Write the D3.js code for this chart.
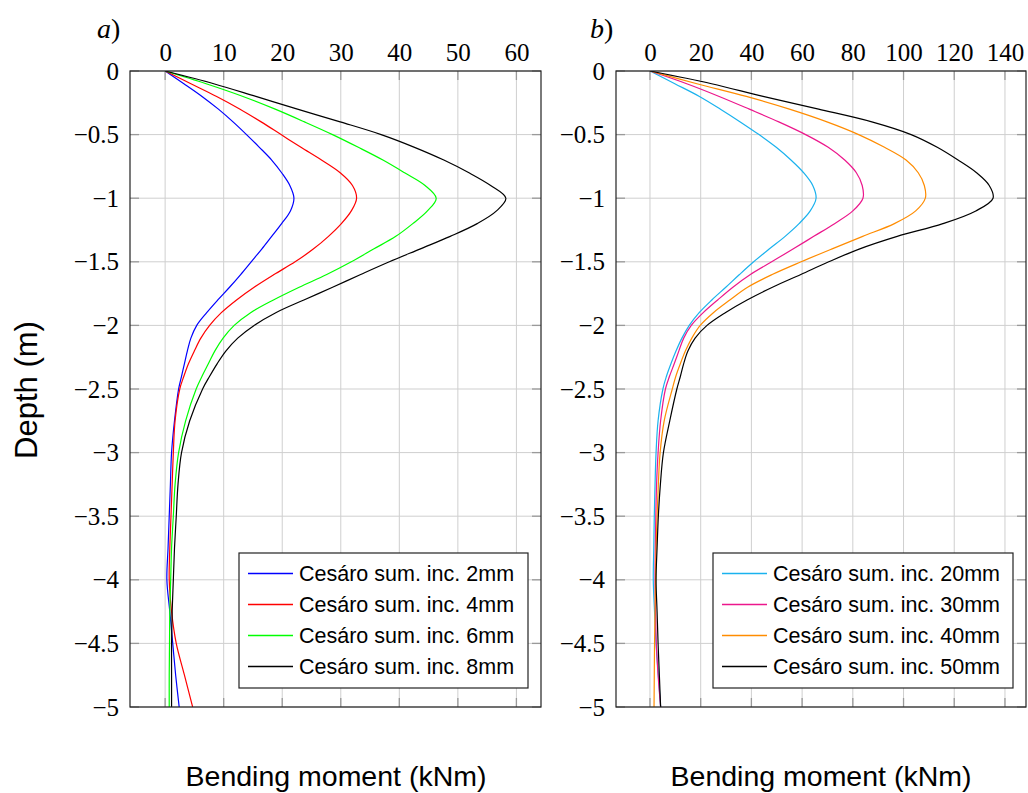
<!DOCTYPE html>
<html>
<head>
<meta charset="utf-8">
<script src="https://cdn.jsdelivr.net/npm/d3@7/dist/d3.min.js"></script>
<style>
  html, body { margin: 0; padding: 0; background: #fff; }
  svg { display: block; }
</style>
</head>
<body>
<svg id="chart" width="1028" height="793"></svg>
<script>
// ---------------- DATA ----------------
const depth = [0, -0.1, -0.2, -0.3, -0.4, -0.5, -0.6, -0.7, -0.8, -0.9, -1.0, -1.1, -1.2, -1.3, -1.4, -1.5, -1.6, -1.7, -1.8, -1.9, -2.0, -2.1, -2.2, -2.3, -2.4, -2.5, -2.75, -3.0, -3.25, -3.5, -3.75, -4.0, -4.25, -4.5, -4.75, -5.0];

// panel a) bending moment (kNm)
const inc2mm = [0, 3.2, 6.3, 9.1, 11.6, 13.9, 16.1, 18.2, 19.9, 21.3, 22.0, 21.4, 19.9, 18.2, 16.5, 14.7, 12.9, 11.0, 9.0, 7.1, 5.4, 4.4, 3.8, 3.3, 2.8, 2.3, 1.6, 1.1, 0.9, 0.7, 0.5, 0.3, 0.8, 1.3, 1.8, 2.4];
const inc4mm = [0, 4.4, 8.8, 12.8, 16.4, 19.8, 23.2, 26.7, 29.9, 32.0, 32.7, 31.8, 30.1, 27.9, 25.3, 22.2, 18.6, 15.2, 12.2, 9.6, 7.6, 6.1, 5.0, 4.0, 3.2, 2.5, 1.7, 1.4, 1.2, 1.0, 0.8, 0.7, 1.1, 1.9, 3.3, 4.7];
const inc6mm = [0, 7.0, 13.3, 18.8, 23.8, 28.6, 33.0, 37.2, 40.9, 44.4, 46.3, 44.8, 42.3, 39.4, 35.6, 31.8, 27.6, 22.9, 18.5, 14.6, 11.8, 9.9, 8.5, 7.4, 6.3, 5.3, 3.5, 2.3, 1.7, 1.4, 1.1, 0.95, 0.8, 0.75, 0.7, 0.7];
const inc8mm = [0, 8.3, 15.5, 22.6, 29.9, 36.9, 42.6, 47.6, 51.9, 55.6, 58.2, 56.6, 53.3, 48.7, 43.5, 38.3, 33.4, 28.6, 23.7, 18.9, 15.2, 12.4, 10.4, 8.9, 7.6, 6.4, 4.2, 2.8, 2.2, 1.9, 1.6, 1.4, 1.2, 1.1, 1.1, 1.1];

// panel b) bending moment (kNm)
const inc20mm = [0, 9.8, 19.5, 27.8, 35.6, 43.0, 49.8, 55.6, 60.6, 64.2, 65.5, 63.2, 58.8, 53.3, 47.0, 40.9, 35.3, 29.9, 24.4, 19.4, 15.5, 12.6, 10.3, 8.3, 6.5, 5.1, 3.2, 2.4, 2.0, 1.7, 1.5, 1.3, 1.8, 2.4, 3.3, 4.2];
const inc30mm = [0, 14.5, 27.3, 39.2, 50.8, 61.4, 70.3, 76.8, 81.4, 83.7, 84.0, 80.0, 72.8, 64.6, 56.4, 48.0, 39.6, 32.7, 26.7, 21.0, 16.3, 13.3, 11.4, 9.6, 7.7, 6.1, 4.2, 3.2, 2.6, 2.3, 2.1, 2.0, 2.2, 2.5, 3.2, 4.2];
const inc40mm = [0, 18.5, 38.0, 55.0, 69.8, 82.3, 92.5, 101.0, 105.8, 108.2, 108.6, 104.8, 96.4, 83.9, 71.6, 59.6, 48.2, 38.5, 31.5, 25.0, 19.8, 16.5, 14.0, 12.0, 10.2, 8.8, 5.6, 4.0, 3.3, 2.8, 2.4, 2.2, 2.0, 1.8, 1.7, 1.6];
const inc50mm = [0, 24.3, 44.6, 66.5, 87.5, 103.0, 113.3, 121.5, 128.8, 133.8, 135.3, 128.5, 115.5, 97.5, 82.5, 70.5, 59.5, 48.3, 38.3, 29.7, 22.5, 17.8, 15.0, 13.3, 12.0, 10.6, 7.8, 5.3, 4.1, 3.3, 2.8, 2.4, 2.8, 3.2, 3.7, 4.2];

const labelsA = ["Cesáro sum. inc. 2mm", "Cesáro sum. inc. 4mm", "Cesáro sum. inc. 6mm", "Cesáro sum. inc. 8mm"];
const labelsB = ["Cesáro sum. inc. 20mm", "Cesáro sum. inc. 30mm", "Cesáro sum. inc. 40mm", "Cesáro sum. inc. 50mm"];
const colorsA = ["#0000ff", "#ff0000", "#00ff00", "#000000"];
const colorsB = ["#1ab2ee", "#ec178c", "#ff8c00", "#000000"];

const xTicksA = [0, 10, 20, 30, 40, 50, 60];
const xTicksB = [0, 20, 40, 60, 80, 100, 120, 140];
const yTicks = [0, -0.5, -1, -1.5, -2, -2.5, -3, -3.5, -4, -4.5, -5];

const xLabel = "Bending moment (kNm)";
const yLabel = "Depth (m)";

// ---------------- DRAW ----------------
const svg = d3.select("#chart");
const plotTop = 71, plotBottom = 707;
const y = d3.scaleLinear().domain([0, -5]).range([plotTop, plotBottom]);

const fmt = v => (v < 0 ? "\u2212" : "") + Math.abs(v);
const serif = "'Liberation Serif', 'DejaVu Serif', serif";
const sans = "'Liberation Sans', Arial, sans-serif";

function panel(opts) {
  const x = d3.scaleLinear().domain(opts.domain).range([opts.left, opts.right]);
  const g = svg.append("g");

  // grid
  g.selectAll(".gx").data(opts.xTicks).join("line")
    .attr("x1", d => x(d)).attr("x2", d => x(d))
    .attr("y1", plotTop).attr("y2", plotBottom)
    .attr("stroke", "#cfcfcf").attr("stroke-width", 1);
  g.selectAll(".gy").data(yTicks).join("line")
    .attr("x1", opts.left).attr("x2", opts.right)
    .attr("y1", d => y(d)).attr("y2", d => y(d))
    .attr("stroke", "#cfcfcf").attr("stroke-width", 1);

  // inner tick marks (all four sides)
  const tl = 9, tc = "#9a9a9a";
  opts.xTicks.forEach(t => {
    g.append("line").attr("x1", x(t)).attr("x2", x(t)).attr("y1", plotTop).attr("y2", plotTop + tl).attr("stroke", tc).attr("stroke-width", 1.3);
    g.append("line").attr("x1", x(t)).attr("x2", x(t)).attr("y1", plotBottom).attr("y2", plotBottom - tl).attr("stroke", tc).attr("stroke-width", 1.3);
  });
  yTicks.forEach(t => {
    g.append("line").attr("x1", opts.left).attr("x2", opts.left + tl).attr("y1", y(t)).attr("y2", y(t)).attr("stroke", tc).attr("stroke-width", 1.3);
    g.append("line").attr("x1", opts.right).attr("x2", opts.right - tl).attr("y1", y(t)).attr("y2", y(t)).attr("stroke", tc).attr("stroke-width", 1.3);
  });

  // axes labels via d3 axes (text only)
  const xAxis = d3.axisTop(x).tickValues(opts.xTicks).tickSize(0).tickPadding(10).tickFormat(d => d);
  const gxA = g.append("g").attr("transform", `translate(0,${plotTop})`).call(xAxis);
  gxA.select(".domain").remove();
  gxA.selectAll("text").attr("font-family", serif).attr("font-size", 25).attr("fill", "#000");

  const yAxis = d3.axisLeft(y).tickValues(yTicks).tickSize(0).tickPadding(11).tickFormat(fmt);
  const gyA = g.append("g").attr("transform", `translate(${opts.left},0)`).call(yAxis);
  gyA.select(".domain").remove();
  gyA.selectAll("text").attr("font-family", serif).attr("font-size", 25).attr("fill", "#000");

  // curves
  const clipId = "clip" + opts.id;
  svg.append("clipPath").attr("id", clipId).append("rect")
    .attr("x", opts.left).attr("y", plotTop).attr("width", opts.right - opts.left).attr("height", plotBottom - plotTop);
  const line = d3.line().x(d => x(d[0])).y(d => y(d[1])).curve(d3.curveCatmullRom.alpha(0.5));
  opts.series.forEach((s, i) => {
    g.append("path").datum(s.map((v, k) => [v, depth[k]]))
      .attr("d", line).attr("fill", "none")
      .attr("stroke", opts.colors[i]).attr("stroke-width", 1.2)
      .attr("clip-path", `url(#${clipId})`);
  });

  // frame
  g.append("rect").attr("x", opts.left).attr("y", plotTop)
    .attr("width", opts.right - opts.left).attr("height", plotBottom - plotTop)
    .attr("fill", "none").attr("stroke", "#222").attr("stroke-width", 1.2);

  // legend
  const lg = g.append("g");
  lg.append("rect").attr("x", opts.legX).attr("y", 553).attr("width", opts.legW).attr("height", 135)
    .attr("fill", "#fff").attr("stroke", "#222").attr("stroke-width", 1.2);
  opts.labels.forEach((lab, i) => {
    const yy = 573.5 + i * 31;
    lg.append("line").attr("x1", opts.legX + 9).attr("x2", opts.legX + 54)
      .attr("y1", yy).attr("y2", yy).attr("stroke", opts.colors[i]).attr("stroke-width", 1.3);
    lg.append("text").attr("x", opts.legX + 60).attr("y", yy + 7.5)
      .attr("font-family", sans).attr("font-size", 21.5)
      .attr("fill", "#000").text(lab);
  });

  // x title
  g.append("text").attr("x", opts.titleX).attr("y", 786)
    .attr("text-anchor", "middle")
    .attr("font-family", sans).attr("font-size", 28.5)
    .attr("fill", "#000").text(xLabel);

  // panel tag
  const tag = g.append("text").attr("x", opts.tagX).attr("y", 38)
    .attr("font-family", serif).attr("font-size", 28).attr("fill", "#000");
  tag.append("tspan").attr("font-style", "italic").text(opts.tag);
  tag.append("tspan").text(")");
}

panel({
  id: "a", left: 130, right: 541, domain: [-6, 64.2],
  xTicks: xTicksA, series: [inc2mm, inc4mm, inc6mm, inc8mm],
  colors: colorsA, labels: labelsA, legX: 239, legW: 289,
  titleX: 336, tag: "a", tagX: 97
});
panel({
  id: "b", left: 616, right: 1026, domain: [-13.4, 148.3],
  xTicks: xTicksB, series: [inc20mm, inc30mm, inc40mm, inc50mm],
  colors: colorsB, labels: labelsB, legX: 713, legW: 300,
  titleX: 821, tag: "b", tagX: 590
});

// y title
svg.append("text")
  .attr("transform", "translate(37,390) rotate(-90)")
  .attr("text-anchor", "middle")
  .attr("font-family", sans).attr("font-size", 31)
  .attr("fill", "#000").text(yLabel);
</script>
</body>
</html>
